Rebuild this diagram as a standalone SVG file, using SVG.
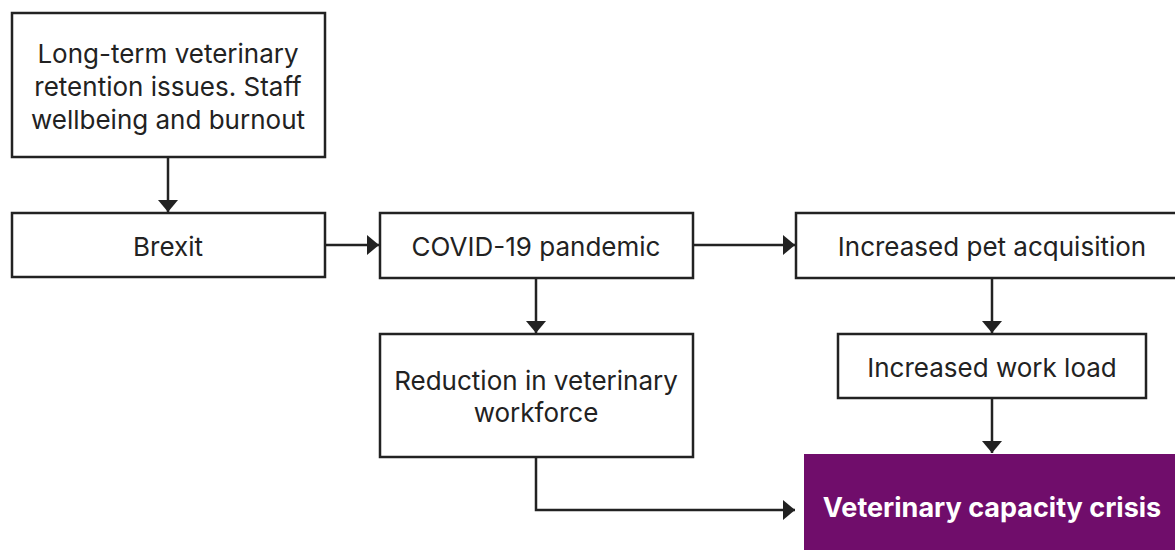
<svg xmlns="http://www.w3.org/2000/svg" width="1175" height="550" viewBox="0 0 1175 550">
<defs>
<style>
.box{fill:#fff;stroke:#222;stroke-width:2.5}
.t{font-family:Inter,"Liberation Sans",sans-serif;font-size:26px;fill:#222;text-anchor:middle}
.tb{font-family:Inter,"Liberation Sans",sans-serif;font-size:27px;font-weight:700;fill:#fff;text-anchor:middle}
.c{fill:none;stroke:#222;stroke-width:2.5}
</style>
<marker id="ah" viewBox="0 0 12 20" refX="12" refY="10" markerWidth="12" markerHeight="20" markerUnits="userSpaceOnUse" orient="auto">
<path d="M0,0 L12,10 L0,20 z" fill="#222"/>
</marker>
</defs>
<rect width="1175" height="550" fill="#fff"/>
<g id="connectors">
<line class="c" x1="168" y1="157" x2="168" y2="212" marker-end="url(#ah)"/>
<line class="c" x1="325" y1="245" x2="379" y2="245" marker-end="url(#ah)"/>
<line class="c" x1="693" y1="245" x2="795" y2="245" marker-end="url(#ah)"/>
<line class="c" x1="536" y1="278" x2="536" y2="333" marker-end="url(#ah)"/>
<line class="c" x1="992" y1="278" x2="992" y2="333" marker-end="url(#ah)"/>
<line class="c" x1="992" y1="398" x2="992" y2="453" marker-end="url(#ah)"/>
<polyline class="c" points="536,457 536,510 795,510" marker-end="url(#ah)"/>
</g>
<g id="n1"><rect class="box" x="12" y="13" width="313" height="144"/>
<text class="t" x="168" y="63">Long-term veterinary</text>
<text class="t" x="168" y="96">retention issues. Staff</text>
<text class="t" x="168" y="129">wellbeing and burnout</text></g>
<g id="n2"><rect class="box" x="12" y="213" width="313" height="64"/>
<text class="t" x="168" y="256">Brexit</text></g>
<g id="n3"><rect class="box" x="380" y="213" width="313" height="65"/>
<text class="t" x="536" y="256">COVID-19 pandemic</text></g>
<g id="n4"><rect class="box" x="796" y="213" width="392" height="65"/>
<text class="t" x="992" y="256">Increased pet acquisition</text></g>
<g id="n5"><rect class="box" x="380" y="334" width="313" height="123"/>
<text class="t" x="536" y="390">Reduction in veterinary</text>
<text class="t" x="536" y="422">workforce</text></g>
<g id="n6"><rect class="box" x="838" y="334" width="308" height="64"/>
<text class="t" x="992" y="377">Increased work load</text></g>
<g id="n7"><rect x="804" y="454" width="380" height="100" fill="#700d6b"/>
<text class="tb" x="992" y="517">Veterinary capacity crisis</text></g>
</svg>
